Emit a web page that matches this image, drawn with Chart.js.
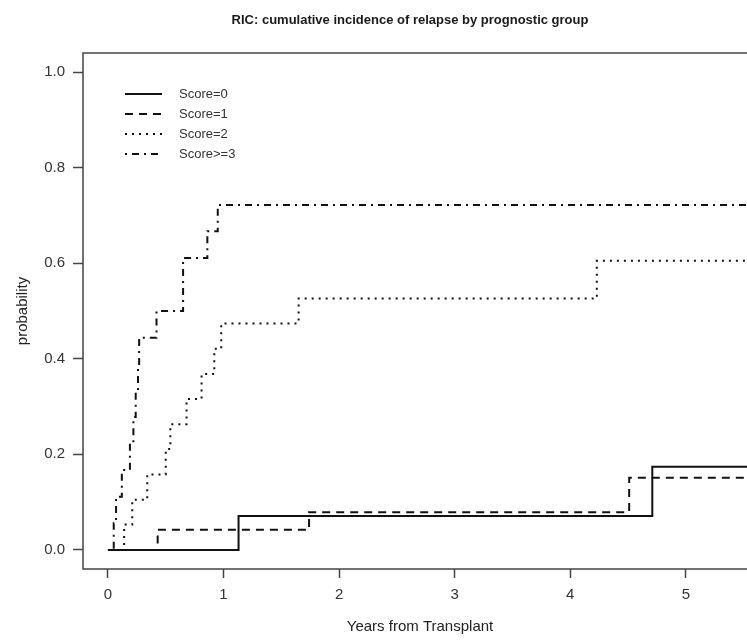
<!DOCTYPE html>
<html>
<head>
<meta charset="utf-8">
<script src="https://cdn.jsdelivr.net/npm/chart.js@4.4.1/dist/chart.umd.min.js"></script>
<style>
  html, body { margin: 0; padding: 0; background: #fff; overflow: hidden; }
  #wrap { width: 760px; height: 641px; }
</style>
</head>
<body>
<div id="wrap"><canvas id="chart1" width="760" height="641"></canvas></div>
<script>
// tick labels
const xTickValues = [0, 1, 2, 3, 4, 5];
const yTickValues = [0, 0.2, 0.4, 0.6, 0.8, 1.0];

// series (years from transplant, cumulative incidence)
const seriesLabels = ['Score=0', 'Score=1', 'Score=2', 'Score>=3'];

const score0Times  = [0, 1.13, 4.71, 5.6];
const score0Values = [0, 0.071, 0.174, 0.174];

const score1Times  = [0, 0.43, 1.74, 4.51, 5.6];
const score1Values = [0, 0.042, 0.079, 0.151, 0.151];

const score2Times  = [0, 0.14, 0.21, 0.34, 0.50, 0.54, 0.68, 0.81, 0.92, 0.98, 1.65, 4.23, 5.6];
const score2Values = [0, 0.053, 0.105, 0.158, 0.211, 0.263, 0.316, 0.368, 0.421, 0.474, 0.526, 0.605, 0.605];

const score3Times  = [0, 0.05, 0.07, 0.12, 0.19, 0.22, 0.24, 0.26, 0.27, 0.42, 0.65, 0.86, 0.95, 5.6];
const score3Values = [0, 0.056, 0.111, 0.167, 0.222, 0.278, 0.333, 0.389, 0.444, 0.5, 0.611, 0.667, 0.722, 0.722];

const chartTitle = 'RIC: cumulative incidence of relapse by prognostic group';

const toPoints = (xs, ys) => xs.map((x, i) => ({ x: x, y: ys[i] }));

const lineStyle = (label, pts, dash) => ({
    label: label,
    data: pts,
    stepped: true,
    borderColor: '#111',
    borderWidth: 2,
    borderDash: dash,
    pointRadius: 0,
    fill: false,
});

// box round the plot region, plus the title
const frame = {
    id: 'frame',
    afterDraw(chart) {
        const { ctx, chartArea: a } = chart;
        ctx.save();
        ctx.strokeStyle = '#444';
        ctx.lineWidth = 1.5;
        ctx.strokeRect(a.left, a.top, a.right - a.left, a.bottom - a.top);
        ctx.fillStyle = '#1a1a1a';
        ctx.font = 'bold 13px "Liberation Sans", Arial, sans-serif';
        ctx.textAlign = 'center';
        ctx.textBaseline = 'middle';
        ctx.fillText(chartTitle, (a.left + a.right) / 2 - 10, 20);
        ctx.restore();
    }
};

// R style legend with line samples
const lineLegend = {
    id: 'lineLegend',
    afterDraw(chart) {
        const { ctx, chartArea: a } = chart;
        ctx.save();
        ctx.font = '13px "Liberation Sans", Arial, sans-serif';
        ctx.textBaseline = 'middle';
        chart.data.datasets.forEach((ds, i) => {
            const y = a.top + 41 + i * 20;
            ctx.strokeStyle = ds.borderColor;
            ctx.lineWidth = ds.borderWidth;
            ctx.setLineDash(ds.borderDash);
            ctx.beginPath();
            ctx.moveTo(a.left + 42, y);
            ctx.lineTo(a.left + 79, y);
            ctx.stroke();
            ctx.setLineDash([]);
            ctx.fillStyle = '#333';
            ctx.fillText(ds.label, a.left + 96, y);
        });
        ctx.restore();
    }
};

const ctx1 = document.getElementById('chart1').getContext('2d');

var chart1 = new Chart(ctx1, {
    type: 'line',
    data: {
        datasets: [
            lineStyle(seriesLabels[0], toPoints(score0Times, score0Values), []),
            lineStyle(seriesLabels[1], toPoints(score1Times, score1Values), [8, 6]),
            lineStyle(seriesLabels[2], toPoints(score2Times, score2Values), [2, 5]),
            lineStyle(seriesLabels[3], toPoints(score3Times, score3Values), [2, 5, 7, 5]),
        ],
    },
    options: {
        responsive: false,
        animation: false,
        layout: { padding: { top: 53, right: 3, left: 0, bottom: 0 } },
        scales: {
            x: {
                type: 'linear',
                min: -0.216,
                max: 5.616,
                afterBuildTicks: (s) => { s.ticks = xTickValues.map(v => ({ value: v })); },
                afterFit: (s) => { s.height = 72; },
                grid: { drawOnChartArea: false, tickLength: 9, tickColor: '#444', tickWidth: 1.5 },
                border: { display: false },
                ticks: {
                    color: '#333',
                    padding: 8,
                    maxRotation: 0,
                    font: { family: '"Liberation Sans", Arial, sans-serif', size: 15 },
                },
                title: {
                    display: true,
                    text: 'Years from Transplant',
                    color: '#222',
                    padding: { top: 0, bottom: 5 },
                    font: { family: '"Liberation Sans", Arial, sans-serif', size: 15 },
                },
            },
            y: {
                type: 'linear',
                min: -0.04,
                max: 1.04,
                afterBuildTicks: (s) => { s.ticks = yTickValues.map(v => ({ value: v })); },
                afterFit: (s) => { s.width = 83; },
                grid: { drawOnChartArea: false, tickLength: 10, tickColor: '#444', tickWidth: 1.5 },
                border: { display: false },
                ticks: {
                    color: '#333',
                    padding: 8,
                    callback: (v) => Number(v).toFixed(1),
                    font: { family: '"Liberation Sans", Arial, sans-serif', size: 15 },
                },
                title: {
                    display: true,
                    text: 'probability',
                    color: '#222',
                    padding: { top: 14, bottom: 0 },
                    font: { family: '"Liberation Sans", Arial, sans-serif', size: 15 },
                },
            },
        },
        plugins: {
            legend: { display: false },
            tooltip: { enabled: false },
        },
    },
    plugins: [frame, lineLegend],
});
</script>
</body>
</html>
